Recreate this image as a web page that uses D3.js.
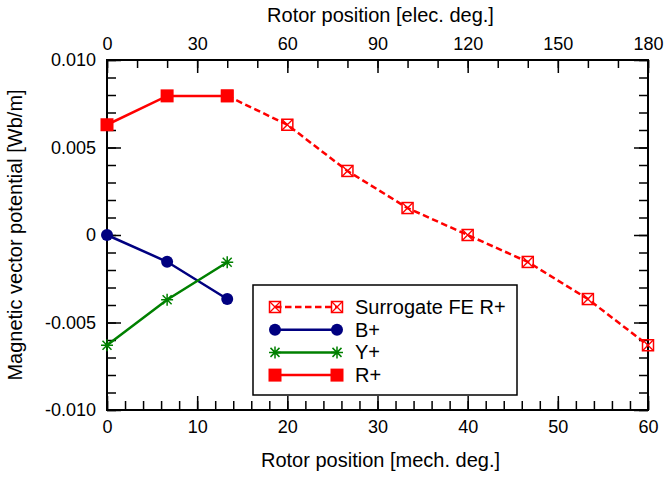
<!DOCTYPE html>
<html>
<head>
<meta charset="utf-8">
<script src="https://cdn.jsdelivr.net/npm/d3@7"></script>
<style>
  body { margin: 0; background: #fff; }
  text { font-family: "Liberation Sans", Arial, sans-serif; fill: #000; }
</style>
</head>
<body>
<div id="chart"></div>
<script>
// Rotor positions [mech. deg.]
const xMeasured = [0, 6.667, 13.333];
const xSurrogate = [13.333, 20, 26.667, 33.333, 40, 46.667, 53.333, 60];

// Series values [Wb/m]
const surrogateR = [0.00795, 0.0063, 0.00366, 0.00154, 0, -0.00154, -0.00366, -0.0063];
const bPlus = [0, -0.00153, -0.00366];
const yPlus = [-0.0063, -0.0037, -0.00156];
const rPlus = [0.0063, 0.00795, 0.00795];

const seriesNames = ["Surrogate FE R+", "B+", "Y+", "R+"];
const yTickLabels = ["0.010", "0.005", "0", "-0.005", "-0.010"];

const width = 665, height = 477;
const margin = { top: 60, right: 17, bottom: 67, left: 107 };
const innerWidth = width - margin.left - margin.right;
const innerHeight = height - margin.top - margin.bottom;

const svg = d3.select("#chart")
    .append("svg")
    .attr("width", width)
    .attr("height", height);

const inner = svg.append("g")
    .attr("transform", `translate(${margin.left},${margin.top})`);

const xScale = d3.scaleLinear().domain([0, 60]).range([0, innerWidth]);
const xElec = d3.scaleLinear().domain([0, 180]).range([0, innerWidth]);
const yScale = d3.scaleLinear().domain([-0.010, 0.010]).range([innerHeight, 0]);

// Ticks: minor and major, all pointing inward
const minorX = d3.range(0, 61, 2);
const majorX = d3.range(0, 61, 10);
const minorE = d3.range(0, 181, 10);
const majorE = d3.range(0, 181, 30);
const minorY = d3.range(-10, 11).map(d => d / 1000);
const majorY = [-0.010, -0.005, 0, 0.005, 0.010];

const tickStyle = g => {
    g.select(".domain").remove();
    g.selectAll("line").attr("stroke", "#000").attr("stroke-width", 1.5);
};
const noLabels = g => g.selectAll("text").remove();

// bottom
inner.append("g").attr("transform", `translate(0,${innerHeight})`)
    .call(d3.axisBottom(xScale).tickValues(minorX).tickSize(-9))
    .call(tickStyle).call(noLabels);
inner.append("g").attr("transform", `translate(0,${innerHeight})`)
    .call(d3.axisBottom(xScale).tickValues(majorX).tickSize(-14).tickPadding(10).tickFormat(d3.format("d")))
    .call(tickStyle)
    .selectAll("text").attr("font-size", 18).attr("fill", "#000");

// top
inner.append("g")
    .call(d3.axisTop(xElec).tickValues(minorE).tickSize(-8))
    .call(tickStyle).call(noLabels);
inner.append("g")
    .call(d3.axisTop(xElec).tickValues(majorE).tickSize(-13).tickPadding(10).tickFormat(d3.format("d")))
    .call(tickStyle)
    .selectAll("text").attr("font-size", 18).attr("fill", "#000");

// left
inner.append("g")
    .call(d3.axisLeft(yScale).tickValues(minorY).tickSize(-9))
    .call(tickStyle).call(noLabels);
inner.append("g")
    .call(d3.axisLeft(yScale).tickValues(majorY).tickSize(-14).tickPadding(11)
        .tickFormat((d, i) => yTickLabels[majorY.length - 1 - i]))
    .call(tickStyle)
    .selectAll("text").attr("font-size", 18).attr("fill", "#000");

// right
inner.append("g").attr("transform", `translate(${innerWidth},0)`)
    .call(d3.axisRight(yScale).tickValues(minorY).tickSize(-9))
    .call(tickStyle).call(noLabels);
inner.append("g").attr("transform", `translate(${innerWidth},0)`)
    .call(d3.axisRight(yScale).tickValues(majorY).tickSize(-14))
    .call(tickStyle).call(noLabels);

// frame
inner.append("rect")
    .attr("width", innerWidth)
    .attr("height", innerHeight)
    .attr("fill", "none")
    .attr("stroke", "#000")
    .attr("stroke-width", 2);

// axis labels
svg.append("text")
    .text("Rotor position [mech. deg.]")
    .attr("x", margin.left + innerWidth / 2 + 3)
    .attr("y", 467)
    .attr("text-anchor", "middle")
    .attr("font-size", 20);

svg.append("text")
    .text("Rotor position [elec. deg.]")
    .attr("x", margin.left + innerWidth / 2 + 3)
    .attr("y", 22)
    .attr("text-anchor", "middle")
    .attr("font-size", 20);

svg.append("text")
    .text("Magnetic vector potential [Wb/m]")
    .attr("transform", `translate(22,${margin.top + innerHeight / 2}) rotate(-90)`)
    .attr("text-anchor", "middle")
    .attr("font-size", 20);

// markers
const drawMarker = (g, type, color) => {
    if (type === "square") {
        g.append("rect").attr("x", -6.5).attr("y", -6.5).attr("width", 13).attr("height", 13)
            .attr("fill", color);
    } else if (type === "circle") {
        g.append("circle").attr("r", 6).attr("fill", color);
    } else if (type === "xsquare") {
        g.append("rect").attr("x", -5.5).attr("y", -5.5).attr("width", 11).attr("height", 11)
            .attr("fill", "none").attr("stroke", color).attr("stroke-width", 1.5);
        g.append("path").attr("d", "M-5.5,-5.5L5.5,5.5M5.5,-5.5L-5.5,5.5")
            .attr("stroke", color).attr("stroke-width", 1.3);
    } else if (type === "star") {
        g.append("path").attr("d", "M-6,0L6,0M0,-6L0,6M-4.5,-4.5L4.5,4.5M4.5,-4.5L-4.5,4.5")
            .attr("stroke", color).attr("stroke-width", 1.5);
    }
};

const series = [
    { name: seriesNames[0], xs: xSurrogate, ys: surrogateR, color: "#ff0000", marker: "xsquare", dash: "6.5,3.5" },
    { name: seriesNames[1], xs: xMeasured, ys: bPlus, color: "#000080", marker: "circle", dash: null },
    { name: seriesNames[2], xs: xMeasured, ys: yPlus, color: "#008000", marker: "star", dash: null },
    { name: seriesNames[3], xs: xMeasured, ys: rPlus, color: "#ff0000", marker: "square", dash: null }
];

const line = d3.line().x(d => xScale(d[0])).y(d => yScale(d[1]));

series.forEach(s => {
    const pts = s.xs.map((x, i) => [x, s.ys[i]]);
    inner.append("path")
        .datum(pts)
        .attr("d", line)
        .attr("fill", "none")
        .attr("stroke", s.color)
        .attr("stroke-width", 2.5)
        .attr("stroke-dasharray", s.dash);
    pts.forEach(p => {
        const g = inner.append("g")
            .attr("transform", `translate(${xScale(p[0])},${yScale(p[1])})`);
        drawMarker(g, s.marker, s.color);
    });
});

// legend
const legend = svg.append("g").attr("transform", "translate(253,285)");
legend.append("rect")
    .attr("width", 264)
    .attr("height", 110)
    .attr("fill", "#fff")
    .attr("stroke", "#000")
    .attr("stroke-width", 1.5);

series.forEach((s, i) => {
    const cy = 22 + i * 22.7;
    const g = legend.append("g").attr("transform", `translate(0,${cy})`);
    g.append("line")
        .attr("x1", 22).attr("x2", 84)
        .attr("stroke", s.color)
        .attr("stroke-width", 2.5)
        .attr("stroke-dasharray", s.dash);
    [22, 84].forEach(x => {
        const m = g.append("g").attr("transform", `translate(${x},0)`);
        drawMarker(m, s.marker, s.color);
    });
    g.append("text")
        .attr("x", 102)
        .attr("y", 7)
        .attr("font-size", 20)
        .text(s.name);
});
</script>
</body>
</html>
